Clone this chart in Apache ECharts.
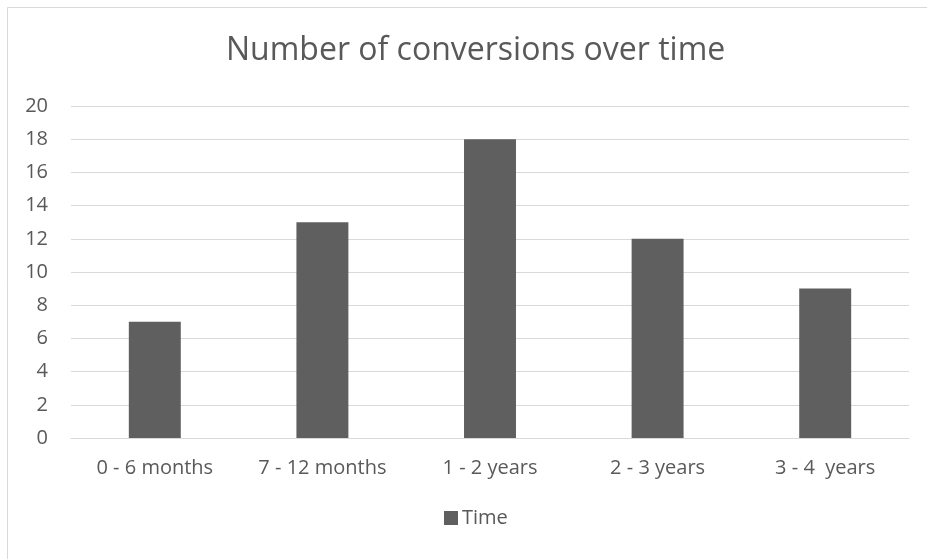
<!DOCTYPE html>
<html>
<head>
<meta charset="utf-8">
<script src="https://cdn.jsdelivr.net/npm/echarts@6/dist/echarts.min.js"></script>
<style>
html,body{margin:0;padding:0;background:#fff;}
#chart{width:927px;height:559px;}
</style>
</head>
<body>
<div id="chart"></div>
<script>
// Conversions grouped by time span
const categories = ['0 - 6 months', '7 - 12 months', '1 - 2 years', '2 - 3 years', '3 - 4  years'];
const timeValues = [7, 13, 18, 12, 9];
const seriesName = 'Time';
const chartTitle = 'Number of conversions over time';

const textColor = '#595959';
const fontFamily = '"Open Sans", "Liberation Sans", sans-serif';

const chart = echarts.init(document.getElementById('chart'));
chart.setOption({
  backgroundColor: '#fff',
  animation: false,
  title: {
    text: chartTitle,
    left: 221,
    top: 30,
    textStyle: { color: textColor, fontSize: 32, fontWeight: 'normal', fontFamily: fontFamily }
  },
  graphic: [{
    type: 'rect',
    shape: { x: 7.5, y: 7.5, width: 940, height: 560 },
    style: { fill: 'none', stroke: '#d9d9d9', lineWidth: 1 },
    silent: true
  }],
  legend: {
    data: [seriesName],
    bottom: 26,
    left: 439,
    icon: 'rect',
    itemWidth: 14,
    itemHeight: 14,
    itemGap: 6,
    textStyle: { color: textColor, fontSize: 20, fontFamily: fontFamily, padding: [0, 0, 0, -1] }
  },
  grid: { left: 71, right: 18, top: 106, bottom: 121, containLabel: false },
  xAxis: {
    type: 'category',
    data: categories,
    axisLine: { lineStyle: { color: '#d9d9d9' } },
    axisTick: { show: false },
    axisLabel: { color: textColor, fontSize: 20, fontFamily: fontFamily, margin: 20 }
  },
  yAxis: {
    type: 'value',
    min: 0,
    max: 20,
    interval: 2,
    axisLine: { show: false },
    axisTick: { show: false },
    splitLine: { lineStyle: { color: '#d9d9d9' } },
    axisLabel: { color: textColor, fontSize: 20, fontFamily: fontFamily, margin: 23 }
  },
  series: [{
    name: seriesName,
    type: 'bar',
    data: timeValues,
    barWidth: '31%',
    itemStyle: { color: '#5f5f5f' }
  }]
});
</script>
</body>
</html>
